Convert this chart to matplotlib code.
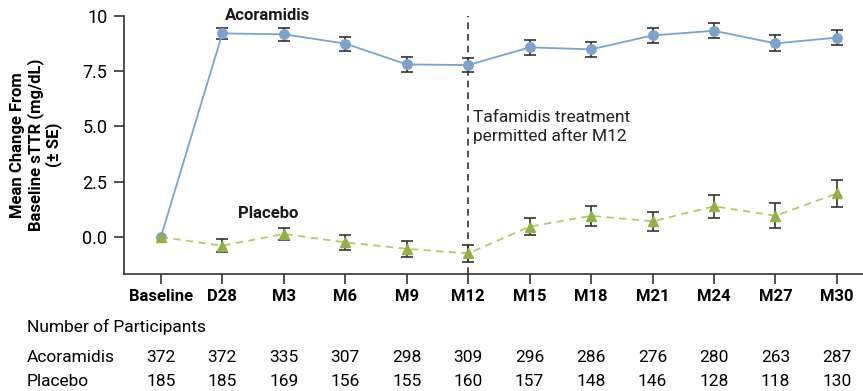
import matplotlib
matplotlib.use("Agg")
import matplotlib.pyplot as plt
import matplotlib.transforms as mtransforms
from matplotlib import font_manager

names = {f.name for f in font_manager.fontManager.ttflist}
FONT = "Liberation Sans Narrow" if "Liberation Sans Narrow" in names else "Roboto"
plt.rcParams["font.family"] = [FONT, "DejaVu Sans"]

visits = ["Baseline", "D28", "M3", "M6", "M9", "M12", "M15", "M18", "M21", "M24", "M27", "M30"]
acor_mean = [0.0, 9.20, 9.16, 8.74, 7.80, 7.77, 8.57, 8.48, 9.11, 9.32, 8.75, 9.01]
acor_se = [0.0, 0.26, 0.29, 0.32, 0.33, 0.32, 0.33, 0.33, 0.35, 0.34, 0.36, 0.35]
plac_mean = [0.0, -0.39, 0.14, -0.24, -0.53, -0.74, 0.47, 0.96, 0.71, 1.39, 0.96, 1.97]
plac_se = [0.0, 0.29, 0.28, 0.34, 0.35, 0.38, 0.38, 0.44, 0.44, 0.51, 0.56, 0.59]
acor_n = [372, 372, 335, 307, 298, 309, 296, 286, 276, 280, 263, 287]
plac_n = [185, 185, 169, 156, 155, 160, 157, 148, 146, 128, 118, 130]
yticks = [0.0, 2.5, 5.0, 7.5, 10]

BLUE = "#7aa3cd"
GREEN_MK = "#93b044"
GREEN_LN = "#b3cb6a"
ERR = "#333333"

fig = plt.figure(figsize=(8.63, 3.91), dpi=100)
ax = fig.add_axes([0.1437, 0.2992, 0.856, 0.6606])
x = list(range(len(visits)))

ax.errorbar(x[1:], acor_mean[1:], yerr=acor_se[1:], fmt="none", ecolor=ERR,
            elinewidth=1.2, capsize=4.2, capthick=1.2, zorder=2)
ax.errorbar(x[1:], plac_mean[1:], yerr=plac_se[1:], fmt="none", ecolor=ERR,
            elinewidth=1.2, capsize=4.2, capthick=1.2, zorder=2)
ax.plot(x, acor_mean, color=BLUE, lw=1.3, marker="o", ms=6.8,
        mfc=BLUE, mec=BLUE, zorder=3)
ax.plot(x, plac_mean, color=GREEN_LN, lw=1.3, ls=(0, (4, 3)), zorder=3)
ax.plot(x, plac_mean, ls="none", marker="^", ms=7.5, mfc=GREEN_MK, mec=GREEN_MK, zorder=4)

ax.axvline(5, color="#333333", lw=1.2, ls=(0, (4, 3)), zorder=1)
ax.text(5.08, 4.97, "Tafamidis treatment\npermitted after M12", fontsize=12.5,
        color="#222222", va="center", ha="left", linespacing=1.25)
ax.text(1.74, 10.0, "Acoramidis", fontsize=12, fontweight="bold", ha="center",
        va="center", color="#1a1a1a")
ax.text(1.745, 1.08, "Placebo", fontsize=12, fontweight="bold", ha="center",
        va="center", color="#1a1a1a")

ax.set_xlim(-0.6, 11.42)
ax.set_ylim(-1.67, 10)
ax.set_xticks(x)
ax.set_xticklabels(visits, fontsize=12, fontweight="bold")
ax.set_yticks(yticks)
ax.set_yticklabels([f"{v:.1f}" if v < 10 else "10" for v in yticks], fontsize=13)
ax.tick_params(axis="both", length=7, width=1.2, color="#333333")
ax.tick_params(axis="x", pad=4)
ax.tick_params(axis="y", pad=5)
for s in ["top", "right"]:
    ax.spines[s].set_visible(False)
for s in ["left", "bottom"]:
    ax.spines[s].set_linewidth(1.2)
    ax.spines[s].set_color("#333333")

fig.text(0.042, 0.629, "Mean Change From\nBaseline sTTR (mg/dL)\n(± SE)", rotation=90,
         fontsize=12, fontweight="bold", ha="center", va="center", linespacing=1.1)

# participant table under the axis
trans = mtransforms.blended_transform_factory(ax.transData, fig.transFigure)
fig.text(27 / 863, 1 - 327 / 391, "Number of Participants", fontsize=12.5,
         ha="left", va="center")
fig.text(27 / 863, 1 - 357 / 391, "Acoramidis", fontsize=12.5, ha="left", va="center")
fig.text(27 / 863, 1 - 382 / 391, "Placebo", fontsize=12.5, ha="left", va="center")
for xi, a, p in zip(x, acor_n, plac_n):
    ax.text(xi, 1 - 357 / 391, str(a), transform=trans, fontsize=12.5,
            ha="center", va="center", clip_on=False)
    ax.text(xi, 1 - 382 / 391, str(p), transform=trans, fontsize=12.5,
            ha="center", va="center", clip_on=False)

fig.savefig("out.png", dpi=100)
